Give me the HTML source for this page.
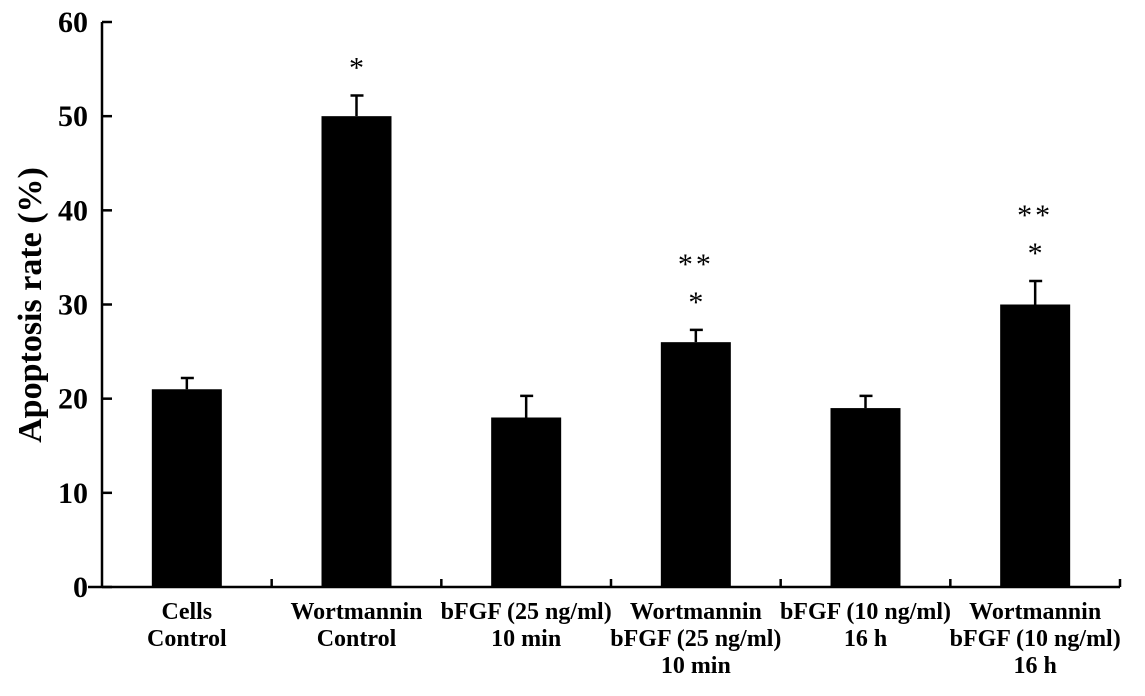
<!DOCTYPE html>
<html><head><meta charset="utf-8"><style>
html,body{margin:0;padding:0;background:#fff;}
svg{display:block;font-family:"Liberation Serif",serif;}
</style></head><body>
<svg id="chart" width="1145" height="696" viewBox="0 0 1145 696">
<g id="axes"></g>
<g id="bars"></g>
<g id="labels"></g>
<text transform="translate(41,305) rotate(-90)" text-anchor="middle" font-size="34" font-weight="bold">Apoptosis rate (%)</text>
</svg>
<script>
const categories=[["Cells","Control"],["Wortmannin","Control"],["bFGF (25 ng/ml)","10 min"],["Wortmannin","bFGF (25 ng/ml)","10 min"],["bFGF (10 ng/ml)","16 h"],["Wortmannin","bFGF (10 ng/ml)","16 h"]];
const values=[21,50,18,26,19,30];
const errors=[1.2,2.2,2.3,1.3,1.3,2.5];
const stars=[[],["*"],[],["*","**"],[],["*","**"]];
const yTicks=[0,10,20,30,40,50,60];
const NS="http://www.w3.org/2000/svg";
const x0=102,x1=1120,y0=587,yTop=22;
const catW=(x1-x0)/categories.length;
function y(v){return y0-(v/60)*(y0-yTop);}
function cx(i){return x0+catW*(i+0.5);}
function mk(tag,attrs,parent){const e=document.createElementNS(NS,tag);for(const k in attrs)e.setAttribute(k,attrs[k]);parent.appendChild(e);return e;}
const axes=document.getElementById('axes'),bars=document.getElementById('bars'),labels=document.getElementById('labels');
let l=mk('line',{x1:x0,y1:yTop,x2:x0,y2:y0,stroke:'#000','stroke-width':2.5},axes);


l=mk('line',{x1:x0-14,y1:y0,x2:x1,y2:y0,stroke:'#000','stroke-width':2.5},axes);


yTicks.forEach(t=>{
 const tk=mk('line',{x1:x0,y1:y(t),x2:x0+10,y2:y(t),stroke:'#000','stroke-width':2.5},axes);
 
 
 const tx=mk('text',{x:88,y:y(t)+10,'text-anchor':'end','font-size':30,'font-weight':'bold'},axes);
 tx.textContent=t;
 
 
});
for(let i=1;i<=categories.length;i++){
 const tk=mk('line',{x1:x0+catW*i,y1:y0,x2:x0+catW*i,y2:y0-8,stroke:'#000','stroke-width':2.5},axes);
 
 
}
values.forEach((v,i)=>{
 const c=cx(i),bw=70;
 const r=mk('rect',{x:c-bw/2,y:y(v),width:bw,height:y0-y(v),fill:'#000'},bars);
 
 
 const et=y(v+errors[i]);
 const e=mk('path',{d:`M${c},${y(v)}V${et}M${c-6},${et}H${c+7}`,stroke:'#000','stroke-width':2.5,fill:'none'},bars);
 
 
 stars[i].forEach((s,k)=>{
  const st=mk('text',{x:c,y:et-18-k*38,'text-anchor':'middle','font-size':30,'letter-spacing':s.length>1?3:0},bars);
  st.textContent=s;
  
  
 });
 categories[i].forEach((ln,k)=>{
  const t=mk('text',{x:c,y:619+k*27,'text-anchor':'middle','font-size':24,'font-weight':'bold'},labels);
  t.textContent=ln;
  
  
 });
});
</script>
</body></html>
